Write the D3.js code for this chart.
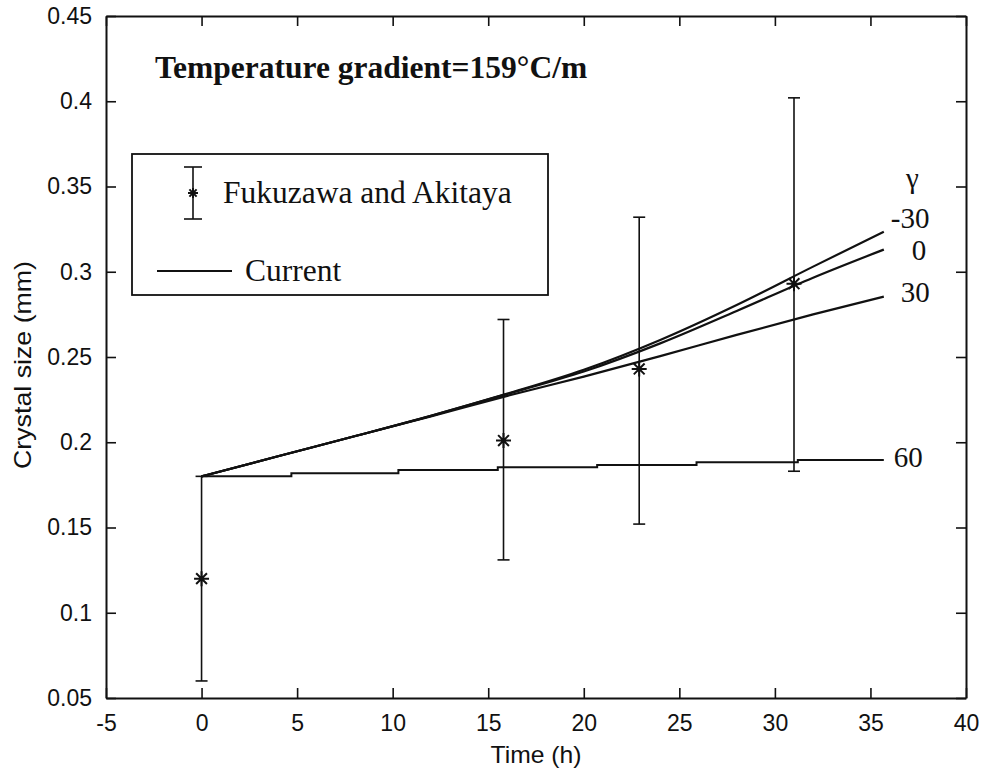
<!DOCTYPE html>
<html>
<head>
<meta charset="utf-8">
<script src="https://cdn.jsdelivr.net/npm/d3@7/dist/d3.min.js"></script>
<style>
  html, body { margin: 0; padding: 0; background: #fff; }
  svg { display: block; }
  .tick text { font-family: "Liberation Sans", Arial, sans-serif; font-size: 23px; fill: #111; }
  .serif { font-family: "Liberation Serif", "Times New Roman", serif; fill: #111; }
</style>
</head>
<body>
<svg id="chart" width="982" height="771"></svg>
<script>
// ---- data ----
const xTicks = [-5, 0, 5, 10, 15, 20, 25, 30, 35, 40];
const xTickLabels = ["-5", "0", "5", "10", "15", "20", "25", "30", "35", "40"];
const yTicks = [0.05, 0.1, 0.15, 0.2, 0.25, 0.3, 0.35, 0.4, 0.45];
const yTickLabels = ["0.05", "0.1", "0.15", "0.2", "0.25", "0.3", "0.35", "0.4", "0.45"];

// measured data (Fukuzawa and Akitaya)
const obsTime = [0, 15.8, 22.9, 31.0];
const obsSize = [0.12, 0.201, 0.243, 0.293];
const obsLow  = [0.06, 0.131, 0.152, 0.183];
const obsHigh = [0.18, 0.272, 0.332, 0.402];

// model curves (Current) for gamma values
const modelTime   = [0, 4, 8, 12, 16, 20, 24, 28, 32, 35.7];
const modelM30    = [0.180, 0.1918, 0.2035, 0.2155, 0.2285, 0.2425, 0.2600, 0.2805, 0.3030, 0.3235];
const model0      = [0.180, 0.1918, 0.2035, 0.2155, 0.2283, 0.2415, 0.2580, 0.2770, 0.2965, 0.3130];
const model30     = [0.180, 0.1918, 0.2035, 0.2152, 0.2272, 0.2385, 0.2505, 0.2630, 0.2750, 0.2854];
const model60Time = [0, 4.7, 10.3, 15.5, 20.7, 25.9, 31.2, 35.7];
const model60     = [0.180, 0.1818, 0.1837, 0.1853, 0.1867, 0.1882, 0.1896, 0.1896];

const gammaLabels = ["-30", "0", "30", "60"];
const gammaLabelY = [0.3315, 0.3128, 0.288, 0.1913];
const gammaLabelDx = [7, 28, 17, 10];

// ---- layout ----
const svg = d3.select("#chart");
const x = d3.scaleLinear().domain([-5, 40]).range([106, 966]);
const y = d3.scaleLinear().domain([0.05, 0.45]).range([698, 16]);

const styleAxis = g => {
  g.select(".domain").attr("stroke", "#111").attr("stroke-width", 2);
  g.selectAll(".tick line").attr("stroke", "#111").attr("stroke-width", 1.6);
};

// frame axes
svg.append("g").attr("transform", `translate(0,${y(0.05)})`)
  .call(d3.axisBottom(x).tickValues(xTicks).tickSizeInner(-10).tickSizeOuter(0).tickPadding(17)
        .tickFormat((d, i) => xTickLabels[i]))
  .call(styleAxis);
svg.append("g").attr("transform", `translate(0,${y(0.45)})`)
  .call(d3.axisTop(x).tickValues(xTicks).tickSizeInner(-10).tickSizeOuter(0).tickFormat(""))
  .call(styleAxis);
svg.append("g").attr("transform", `translate(${x(-5)},0)`)
  .call(d3.axisLeft(y).tickValues(yTicks).tickSizeInner(-10).tickSizeOuter(0).tickPadding(14)
        .tickFormat((d, i) => yTickLabels[i]))
  .call(styleAxis);
svg.append("g").attr("transform", `translate(${x(40)},0)`)
  .call(d3.axisRight(y).tickValues(yTicks).tickSizeInner(-10).tickSizeOuter(0).tickFormat(""))
  .call(styleAxis);

// axis titles
svg.append("text")
  .attr("x", (x(-5) + x(40)) / 2).attr("y", 763)
  .attr("text-anchor", "middle")
  .attr("font-family", "Liberation Sans, Arial, sans-serif").attr("font-size", 24).attr("fill", "#111")
  .attr("textLength", 91).attr("lengthAdjust", "spacingAndGlyphs")
  .text("Time (h)");
svg.append("text")
  .attr("transform", `translate(31,365) rotate(-90)`)
  .attr("text-anchor", "middle")
  .attr("font-family", "Liberation Sans, Arial, sans-serif").attr("font-size", 24).attr("fill", "#111")
  .attr("textLength", 208).attr("lengthAdjust", "spacingAndGlyphs")
  .text("Crystal size (mm)");

// model curves
const line = d3.line().x(d => x(d[0])).y(d => y(d[1])).curve(d3.curveMonotoneX);
const curves = [modelM30, model0, model30].map(v => modelTime.map((t, i) => [t, v[i]]));
svg.append("g").selectAll("path").data(curves).join("path")
  .attr("d", line).attr("fill", "none").attr("stroke", "#111").attr("stroke-width", 2.2);
svg.append("path")
  .datum(model60Time.map((t, i) => [t, model60[i]]))
  .attr("d", d3.line().x(d => x(d[0])).y(d => y(d[1])).curve(d3.curveStepAfter))
  .attr("fill", "none").attr("stroke", "#111").attr("stroke-width", 2);

// error bars
const obs = obsTime.map((t, i) => ({ t, v: obsSize[i], lo: obsLow[i], hi: obsHigh[i] }));
const eb = svg.append("g").attr("stroke", "#111").attr("stroke-width", 1.6).attr("fill", "none");
eb.selectAll(".v").data(obs).join("line").attr("class", "v")
  .attr("x1", d => x(d.t)).attr("x2", d => x(d.t)).attr("y1", d => y(d.lo)).attr("y2", d => y(d.hi));
eb.selectAll(".lo").data(obs).join("line").attr("class", "lo")
  .attr("x1", d => x(d.t) - 6).attr("x2", d => x(d.t) + 6).attr("y1", d => y(d.lo)).attr("y2", d => y(d.lo));
eb.selectAll(".hi").data(obs).join("line").attr("class", "hi")
  .attr("x1", d => x(d.t) - 6).attr("x2", d => x(d.t) + 6).attr("y1", d => y(d.hi)).attr("y2", d => y(d.hi));

// asterisk markers
function star(g, cx, cy, r) {
  const p = d3.path();
  p.moveTo(cx - r, cy); p.lineTo(cx + r, cy);
  p.moveTo(cx, cy - r); p.lineTo(cx, cy + r);
  const k = r * 0.72;
  p.moveTo(cx - k, cy - k); p.lineTo(cx + k, cy + k);
  p.moveTo(cx - k, cy + k); p.lineTo(cx + k, cy - k);
  g.append("path").attr("d", p.toString()).attr("stroke", "#111").attr("stroke-width", 2).attr("fill", "none");
}
obs.forEach(d => star(svg, x(d.t), y(d.v), 7.5));

// gamma labels
svg.append("text").attr("class", "serif").attr("x", 906).attr("y", 188)
  .attr("font-size", 29).text("γ");
svg.append("g").selectAll("text").data(gammaLabels).join("text")
  .attr("class", "serif")
  .attr("x", (d, i) => x(35.7) + gammaLabelDx[i])
  .attr("y", (d, i) => y(gammaLabelY[i]))
  .attr("dy", "0.35em")
  .attr("font-size", 29)
  .text(d => d);

// title annotation
svg.append("text").attr("class", "serif")
  .attr("x", 155).attr("y", 78)
  .attr("font-size", 31.5).attr("font-weight", "bold")
  .text("Temperature gradient=159°C/m");

// legend
const lg = svg.append("g");
lg.append("rect").attr("x", 132).attr("y", 154).attr("width", 416).attr("height", 141)
  .attr("fill", "#fff").attr("stroke", "#111").attr("stroke-width", 1.8);
const lx = 193;
lg.append("line").attr("x1", lx).attr("x2", lx).attr("y1", 167).attr("y2", 219).attr("stroke", "#111").attr("stroke-width", 1.6);
lg.append("line").attr("x1", lx - 9).attr("x2", lx + 9).attr("y1", 167).attr("y2", 167).attr("stroke", "#111").attr("stroke-width", 1.6);
lg.append("line").attr("x1", lx - 9).attr("x2", lx + 9).attr("y1", 219).attr("y2", 219).attr("stroke", "#111").attr("stroke-width", 1.6);
star(lg, lx, 193, 5);
lg.append("text").attr("class", "serif").attr("x", 223).attr("y", 203).attr("font-size", 31.5)
  .text("Fukuzawa and Akitaya");
lg.append("line").attr("x1", 157).attr("x2", 232).attr("y1", 271).attr("y2", 271).attr("stroke", "#111").attr("stroke-width", 1.8);
lg.append("text").attr("class", "serif").attr("x", 245).attr("y", 281).attr("font-size", 31.5)
  .text("Current");
</script>
</body>
</html>
